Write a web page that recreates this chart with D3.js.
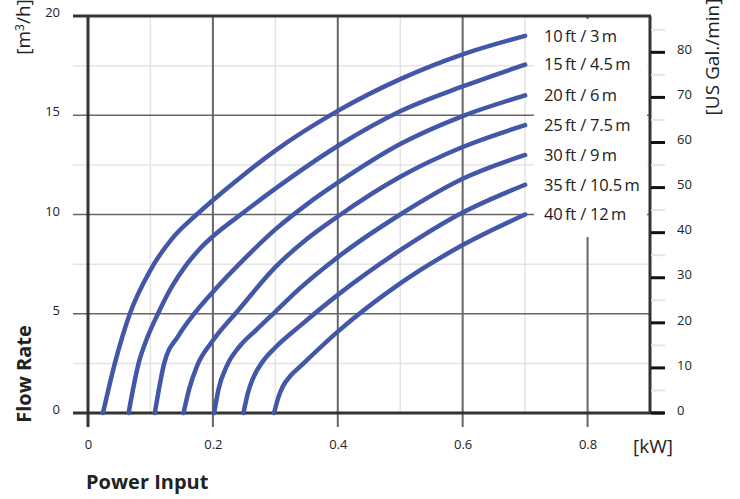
<!DOCTYPE html>
<html>
<head>
<meta charset="utf-8">
<script src="https://cdn.jsdelivr.net/npm/d3@7"></script>
<style>
body { margin: 0; background: #fff; }
svg text { font-family: "Open Sans", "Noto Sans", sans-serif; fill: #222; }
</style>
</head>
<body>
<svg id="chart" width="740" height="499"></svg>
<script>
// axis ticks
var xTicks = [0, 0.2, 0.4, 0.6, 0.8];
var xMinor = [0.1, 0.3, 0.5, 0.7];
var yTicks = [0, 5, 10, 15, 20];
var yMinor = [2.5, 7.5, 12.5, 17.5];
var gpmTicks = [0, 10, 20, 30, 40, 50, 60, 70, 80];
var gpmMinor = [5, 15, 25, 35, 45, 55, 65, 75, 85];

// pump curves: [power kW, flow m3/h]
var headLabels = ["10\u2009ft / 3\u2009m", "15\u2009ft / 4.5\u2009m", "20\u2009ft / 6\u2009m", "25\u2009ft / 7.5\u2009m",
                  "30\u2009ft / 9\u2009m", "35\u2009ft / 10.5\u2009m", "40\u2009ft / 12\u2009m"];
var ft10 = [[0.024,0],[0.043,2.5],[0.067,5],[0.1,7.2],[0.135,8.8],[0.174,10],[0.2,10.72],[0.25,12.02],[0.3,13.22],[0.4,15.22],[0.5,16.82],[0.6,18.07],[0.7,19]];
var ft15 = [[0.065,0],[0.081,2.5],[0.095,3.8],[0.112,5],[0.135,6.4],[0.156,7.4],[0.18,8.3],[0.2,8.9],[0.249,10.1],[0.3,11.3],[0.4,13.45],[0.5,15.2],[0.6,16.45],[0.7,17.55]];
var ft20 = [[0.107,0],[0.122,2.5],[0.145,3.9],[0.17,5],[0.2,6.1],[0.25,7.75],[0.3,9.25],[0.35,10.5],[0.4,11.6],[0.5,13.55],[0.6,14.96],[0.7,16]];
var ft25 = [[0.153,0],[0.162,1.2],[0.175,2.4],[0.2,3.65],[0.24,5.15],[0.3,7.35],[0.35,8.75],[0.4,9.9],[0.5,11.9],[0.6,13.4],[0.7,14.5]];
var ft30 = [[0.202,0],[0.209,1.2],[0.222,2.35],[0.244,3.4],[0.27,4.2],[0.3,5.1],[0.34,6.3],[0.4,7.85],[0.5,10],[0.6,11.8],[0.7,13]];
var ft35 = [[0.249,0],[0.256,1],[0.265,1.8],[0.28,2.6],[0.3,3.3],[0.34,4.4],[0.4,5.95],[0.5,8.2],[0.6,10.1],[0.7,11.5]];
var ft40 = [[0.298,0],[0.305,0.8],[0.312,1.33],[0.325,1.9],[0.34,2.35],[0.4,4.1],[0.5,6.53],[0.6,8.46],[0.7,10]];
var curves = [ft10, ft15, ft20, ft25, ft30, ft35, ft40];

var svg = d3.select("#chart");
var x = d3.scaleLinear().domain([0, 0.9]).range([88, 650]);
var y = d3.scaleLinear().domain([0, 20]).range([413, 16]);
var gpm = d3.scaleLinear().domain([0, 20 / 0.22712]).range([413, 16]);

var minorCol = "#e4e4e4", majorCol = "#666", frameCol = "#333";

// minor grid
svg.selectAll(".hmin").data(yMinor).enter().append("line")
    .attr("x1", 73).attr("x2", 650).attr("y1", d => y(d)).attr("y2", d => y(d))
    .attr("stroke", minorCol).attr("stroke-width", 1.5);
svg.selectAll(".vmin").data(xMinor).enter().append("line")
    .attr("x1", d => x(d)).attr("x2", d => x(d)).attr("y1", 16).attr("y2", 413)
    .attr("stroke", minorCol).attr("stroke-width", 1.5);

// major grid
svg.selectAll(".hmaj").data(yTicks).enter().append("line")
    .attr("x1", 73).attr("x2", 650).attr("y1", d => y(d)).attr("y2", d => y(d))
    .attr("stroke", majorCol).attr("stroke-width", 1.5);
svg.selectAll(".vmaj").data(xTicks).enter().append("line")
    .attr("x1", d => x(d)).attr("x2", d => x(d)).attr("y1", 16).attr("y2", 427)
    .attr("stroke", majorCol).attr("stroke-width", 2);

// white box behind the head labels
svg.append("rect").attr("x", 534).attr("y", 19).attr("width", 113).attr("height", 218).attr("fill", "#fff");

// frame
svg.append("line").attr("x1", 88).attr("x2", 88).attr("y1", 16).attr("y2", 427).attr("stroke", frameCol).attr("stroke-width", 3);
svg.append("line").attr("x1", 73).attr("x2", 651).attr("y1", 16).attr("y2", 16).attr("stroke", frameCol).attr("stroke-width", 3);
svg.append("line").attr("x1", 650).attr("x2", 650).attr("y1", 16).attr("y2", 413).attr("stroke", frameCol).attr("stroke-width", 3);
svg.append("line").attr("x1", 73).attr("x2", 664).attr("y1", 413).attr("y2", 413).attr("stroke", frameCol).attr("stroke-width", 3);

// right gpm ticks
svg.selectAll(".gmin").data(gpmMinor).enter().append("line")
    .attr("x1", 651).attr("x2", 665).attr("y1", d => gpm(d)).attr("y2", d => gpm(d))
    .attr("stroke", minorCol).attr("stroke-width", 2);
svg.selectAll(".gmaj").data(gpmTicks).enter().append("line")
    .attr("x1", 651).attr("x2", 665).attr("y1", d => gpm(d)).attr("y2", d => gpm(d))
    .attr("stroke", "#111").attr("stroke-width", 3);

// curves
var line = d3.line().x(d => x(d[0])).y(d => y(d[1])).curve(d3.curveMonotoneX);
svg.selectAll(".curve").data(curves).enter().append("path")
    .attr("d", line).attr("fill", "none").attr("stroke", "#4257a7")
    .attr("stroke-width", 4.5).attr("stroke-linecap", "round");

// head labels
svg.selectAll(".head").data(curves).enter().append("text")
    .attr("x", 544).attr("y", d => y(d[d.length - 1][1])).attr("dy", "0.35em")
    .attr("font-size", 16.5).attr("letter-spacing", -0.2).text((d, i) => headLabels[i]);

// tick labels via axes
var axL = svg.append("g").attr("transform", "translate(60,-3.5)")
    .call(d3.axisLeft(y).tickValues(yTicks).tickSize(0).tickPadding(0).tickFormat(d3.format("d")));
var axR = svg.append("g").attr("transform", "translate(677,-3)")
    .call(d3.axisRight(gpm).tickValues(gpmTicks).tickSize(0).tickPadding(0).tickFormat(d3.format("d")));
var axB = svg.append("g").attr("transform", "translate(0,440)")
    .call(d3.axisBottom(x).tickValues(xTicks).tickSize(0).tickPadding(0).tickFormat(d => d === 0 ? "0" : d3.format(".1f")(d)));
[axL, axR, axB].forEach(function(g) {
    g.select(".domain").remove();
    g.selectAll("text").attr("font-size", 13).attr("fill", "#222")
        .style("font-family", "'Open Sans','Noto Sans',sans-serif");
});

// units and titles
svg.append("text").attr("x", 673).attr("y", 453).attr("text-anchor", "end").attr("font-size", 19).text("[kW]");
svg.append("text").attr("transform", "translate(30,27) rotate(-90)").attr("text-anchor", "middle").attr("font-size", 19)
    .html("[m<tspan font-size='12' dy='-6'>3</tspan><tspan dy='6'>/h]</tspan>");
svg.append("text").attr("transform", "translate(719,57) rotate(-90)").attr("text-anchor", "middle").attr("font-size", 19)
    .text("[US Gal./min]");
svg.append("text").attr("transform", "translate(31,374) rotate(-90)").attr("text-anchor", "middle")
    .attr("font-size", 20).attr("font-weight", "bold").text("Flow Rate");
svg.append("text").attr("x", 86).attr("y", 489).attr("font-size", 20).attr("font-weight", "bold").text("Power Input");
</script>
</body>
</html>
